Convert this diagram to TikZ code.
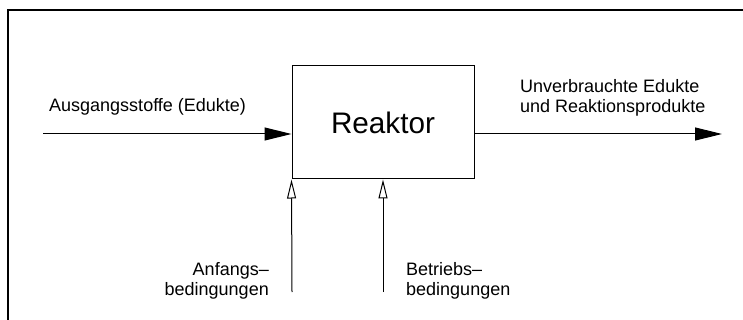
\documentclass[tikz,border=0pt]{standalone}
\usepackage{fontspec}
\setmainfont{Liberation Sans}
\usetikzlibrary{arrows.meta}
\begin{document}
\begin{tikzpicture}[x=1pt,y=-1pt,
  flow/.style={line width=1pt,-{Triangle[length=27pt,width=13pt]}},
  cond/.style={line width=1pt,-{Triangle[open,length=19pt,width=9pt,fill=white]}},
  label/.style={inner sep=0pt,font=\fontsize{18}{20}\selectfont},
  reactorbox/.style={draw,line width=1pt,minimum width=182pt,minimum height=113pt,inner sep=0pt,font=\fontsize{29.7}{32}\selectfont}]
\useasboundingbox (0,0) rectangle (743,320);
% frame
\draw[line width=2pt] (743,10.5) -- (7.5,10.5) -- (7.5,320);
% reactor
\node[reactorbox] (reactor) at (383,122.5) {Reaktor};
% feed and product streams
\coordinate (feed) at (43,134);
\coordinate (out) at (722,134);
\draw[flow] (feed) -- (feed -| reactor.west);
\draw[flow] (feed -| reactor.east) -- (out);
% initial and operating conditions
\coordinate (init) at (292,292);
\coordinate (oper) at (383,292);
\draw[cond] (init) -- (reactor.south west);
\draw[cond] (oper) -- (reactor.south);
% labels
\node[label,anchor=base west] (feedlbl) at (49,112) {Ausgangsstoffe (Edukte)};
\node[label,anchor=north west,align=left] (outlbl) at (520,79) {Unverbrauchte Edukte\\und Reaktionsprodukte};
\node[label,anchor=north east,align=right] (initlbl) at (269,262) {Anfangs–\\bedingungen};
\node[label,anchor=north west,align=left] (operlbl) at (406,262) {Betriebs–\\bedingungen};
\end{tikzpicture}
\end{document}
